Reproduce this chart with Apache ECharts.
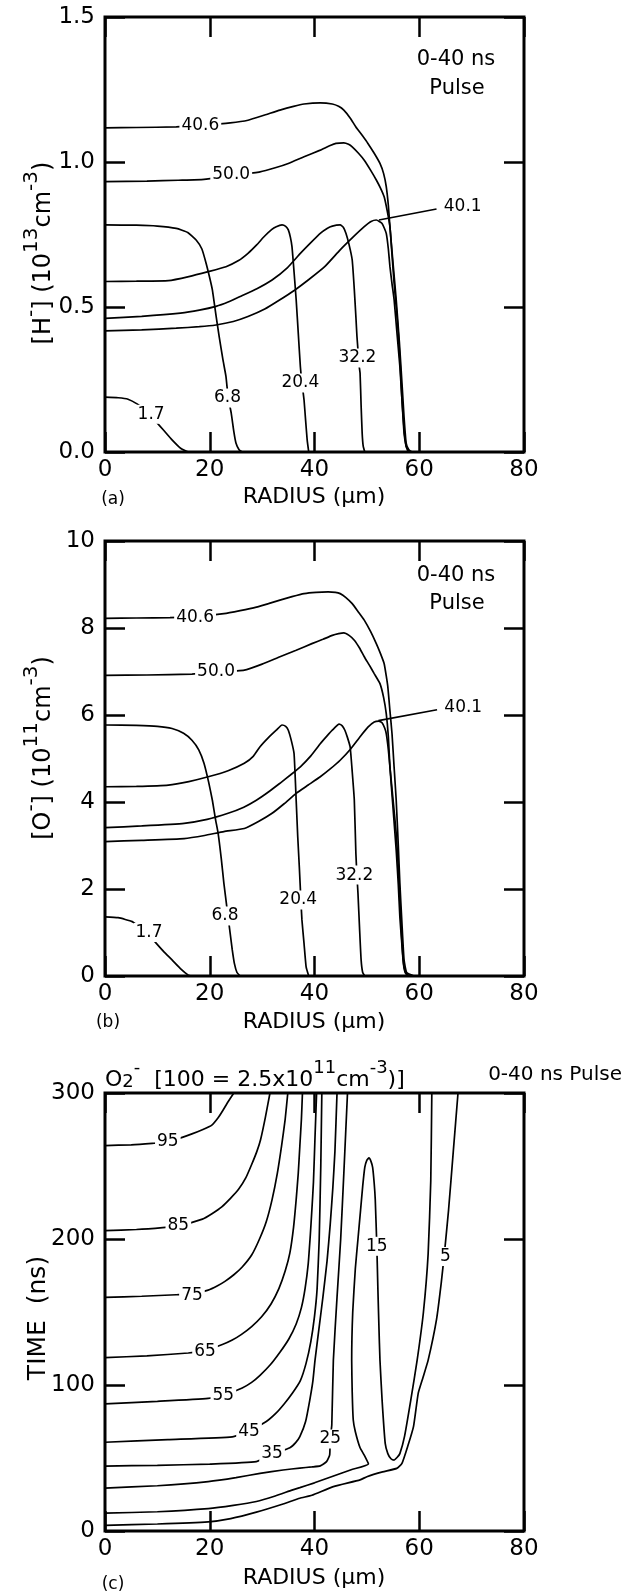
<!DOCTYPE html>
<html>
<head>
<meta charset="utf-8">
<script src="https://cdn.jsdelivr.net/npm/echarts@6/dist/echarts.min.js"></script>
<style>
  html, body { margin: 0; padding: 0; background: #fff; }
  #chart { width: 626px; height: 1595px; }
</style>
</head>
<body>
<div id="chart"></div>
<script>
// ---------- shared axis ticks ----------
const radiusTicks = [0, 20, 40, 60, 80];

// ---------- (a) H- density profiles, 10^13 cm^-3, [radius um, density] ----------
const hCurve1_7 = [[0,0.189],[2.5,0.187],[4.4,0.182],[6.2,0.165],[8.0,0.14],[9.7,0.105],[11.2,0.075],[12.8,0.042],[14.5,0.012],[15.9,0]];
const hCurve6_8 = [[0,0.783],[6,0.782],[10,0.779],[13.6,0.771],[15.8,0.757],[17.4,0.731],[18.5,0.70],[19.3,0.651],[20.0,0.60],[20.5,0.559],[21.2,0.47],[21.8,0.398],[22.5,0.32],[23.1,0.26],[23.5,0.19],[24.1,0.134],[24.6,0.07],[25.0,0.031],[25.6,0.008],[26.2,0]];
const hCurve20_4 = [[0,0.588],[6,0.589],[12.1,0.591],[16,0.605],[19.7,0.622],[23.1,0.639],[25.5,0.66],[27.3,0.685],[29,0.715],[30.4,0.743],[31.8,0.767],[32.7,0.777],[33.8,0.783],[34.5,0.778],[35.0,0.766],[35.4,0.74],[35.7,0.708],[36.1,0.62],[36.5,0.525],[36.9,0.41],[37.3,0.295],[37.6,0.24],[38.0,0.18],[38.3,0.11],[38.6,0.042],[38.9,0]];
const hCurve32_2 = [[0,0.461],[7,0.468],[14.4,0.479],[18,0.489],[21.2,0.502],[23.5,0.517],[25.8,0.536],[29,0.563],[31.9,0.593],[34.8,0.635],[37.3,0.685],[39.3,0.722],[41.1,0.754],[42.4,0.771],[43.4,0.779],[44.9,0.783],[45.5,0.775],[46.0,0.754],[46.6,0.715],[47.2,0.662],[47.6,0.56],[47.9,0.467],[48.1,0.40],[48.3,0.352],[48.5,0.30],[48.7,0.272],[48.9,0.16],[49.1,0.065],[49.3,0.02],[49.6,0]];
const hCurve40_1 = [[0,0.418],[7,0.421],[13.6,0.427],[18,0.432],[21.2,0.438],[24.5,0.45],[27.3,0.467],[30.5,0.493],[33.4,0.525],[36.2,0.558],[38.8,0.593],[42,0.64],[44.9,0.697],[47.3,0.74],[49.5,0.777],[50.8,0.795],[51.8,0.80],[52.9,0.788],[53.7,0.754],[54.1,0.70],[54.4,0.64],[54.8,0.58],[55.2,0.525],[55.7,0.42],[56.3,0.295],[56.7,0.18],[57.1,0.065],[57.5,0.02],[57.9,0]];
const hCurve50_0 = [[0,0.932],[8,0.934],[14,0.937],[18.9,0.94],[24,0.953],[29.6,0.966],[32.5,0.98],[35,0.995],[38,1.018],[41.1,1.041],[43,1.057],[44.1,1.064],[45.6,1.066],[46.5,1.061],[47.2,1.052],[48.4,1.03],[49.5,1.006],[50.7,0.972],[51.8,0.938],[52.6,0.91],[53.3,0.88],[53.9,0.83],[54.4,0.777],[54.8,0.68],[55.2,0.582],[55.6,0.50],[56.0,0.41],[56.4,0.29],[56.7,0.18],[57.1,0.08],[57.5,0.02],[58.2,0]];
const hCurve40_6 = [[0,1.118],[6,1.119],[13.6,1.121],[18.6,1.127],[23.9,1.135],[27.3,1.144],[30.5,1.162],[33.4,1.179],[36,1.192],[38,1.2],[41.1,1.204],[43.4,1.2],[44.6,1.192],[45.6,1.179],[46.8,1.152],[47.9,1.121],[49.1,1.092],[50.2,1.064],[51.4,1.03],[52.5,0.995],[53.2,0.96],[53.7,0.915],[54.1,0.85],[54.4,0.777],[55.0,0.65],[55.6,0.525],[56.2,0.38],[56.7,0.238],[57.1,0.12],[57.5,0.031],[58.0,0.008],[58.6,0]];
const hLeader40_1 = [[52.3,0.80],[63.3,0.838]];
// [text, radius, density] for the time tags (ns)
const hLabels = [['1.7',8.8,0.13],['6.8',23.4,0.186],['20.4',37.3,0.238],['32.2',48.2,0.324],['50.0',24.1,0.958],['40.6',18.2,1.125],['40.1',68.3,0.846]];

// ---------- (b) O- density profiles, 10^11 cm^-3 ----------
const oCurve1_7 = [[0,1.36],[2.5,1.34],[5.2,1.25],[7,1.08],[8.6,0.92],[9.8,0.75],[11.3,0.55],[12.8,0.37],[14.4,0.17],[15.9,0.02],[16.5,0]];
const oCurve6_8 = [[0,5.77],[6,5.76],[10,5.74],[12.8,5.69],[15,5.58],[16.6,5.42],[17.9,5.2],[18.9,4.89],[19.8,4.45],[20.5,4.04],[21.1,3.6],[21.6,3.28],[22.2,2.7],[22.7,2.13],[23.3,1.55],[23.9,0.98],[24.3,0.6],[24.7,0.29],[25.2,0.08],[25.8,0]];
const oCurve20_4 = [[0,4.35],[6,4.36],[12.1,4.39],[16,4.47],[19.7,4.58],[23.5,4.72],[26.6,4.89],[28.3,5.05],[29.6,5.27],[31.2,5.48],[32.7,5.65],[33.8,5.77],[34.5,5.74],[35,5.65],[35.6,5.4],[36.1,5.11],[36.5,4.04],[36.8,3.2],[37.1,2.51],[37.4,1.75],[37.6,1.29],[38.0,0.75],[38.4,0.21],[38.9,0]];
const oCurve32_2 = [[0,3.41],[7,3.45],[15.1,3.51],[19.5,3.6],[23.5,3.74],[26.5,3.88],[28.9,4.04],[31.2,4.23],[33.4,4.43],[35.4,4.62],[37.3,4.81],[39.3,5.06],[41.1,5.34],[42.4,5.52],[43.4,5.65],[44.7,5.79],[45.3,5.75],[45.8,5.65],[46.3,5.48],[46.8,5.27],[47.2,4.7],[47.6,4.04],[47.9,2.82],[48.1,2.32],[48.3,1.9],[48.6,1.1],[48.9,0.37],[49.2,0.08],[49.6,0]];
const oCurve40_1 = [[0,3.09],[7,3.12],[15.1,3.16],[19,3.23],[22.7,3.32],[26.6,3.39],[29.3,3.55],[31.9,3.74],[34.2,3.96],[36.5,4.2],[38.8,4.39],[41.1,4.58],[43,4.76],[44.9,4.96],[46.9,5.22],[48.7,5.5],[50.2,5.72],[51.4,5.84],[52.3,5.86],[52.9,5.82],[53.4,5.7],[53.7,5.57],[54.1,5.2],[54.4,4.81],[55.0,4.05],[55.6,3.28],[56.0,2.5],[56.3,1.75],[56.6,1.0],[56.9,0.37],[57.3,0.08],[57.9,0]];
const oCurve50_0 = [[0,6.91],[8,6.92],[16.6,6.94],[21.2,6.98],[26.6,7.03],[30,7.17],[33.4,7.34],[36.5,7.49],[39.5,7.64],[41.6,7.74],[43.4,7.83],[44.6,7.87],[45.6,7.89],[46.6,7.83],[47.6,7.72],[48.6,7.54],[49.5,7.34],[50.5,7.14],[51.4,6.95],[52.5,6.72],[53.2,6.4],[53.7,6.03],[54.1,5.5],[54.4,4.81],[55.0,3.85],[55.6,2.89],[56.0,2.1],[56.3,1.36],[56.7,0.7],[57.1,0.21],[57.6,0.04],[58.6,0]];
const oCurve40_6 = [[0,8.22],[6,8.23],[12.4,8.24],[17.2,8.26],[22.7,8.33],[25.8,8.40],[28.9,8.48],[31.2,8.56],[33.4,8.64],[35.7,8.72],[38,8.79],[40.3,8.82],[42.6,8.83],[44,8.82],[44.9,8.79],[46,8.70],[47.2,8.56],[48.3,8.38],[49.5,8.18],[50.7,7.92],[51.8,7.64],[52.6,7.41],[53.3,7.18],[53.7,6.9],[54.0,6.65],[54.4,6.1],[54.8,5.57],[55.2,4.8],[55.6,4.04],[56.0,3.0],[56.3,2.13],[56.7,1.2],[57.1,0.37],[57.6,0.08],[59,0]];
const oLeader40_1 = [[52.2,5.87],[63.4,6.12]];
const oLabels = [['1.7',8.4,1.0],['6.8',22.9,1.38],['20.4',36.9,1.75],['32.2',47.6,2.32],['50.0',21.2,6.99],['40.6',17.2,8.24],['40.1',68.4,6.17]];

// ---------- (c) O2- contours in (radius um, time ns), 100 = 2.5x10^11 cm^-3 ----------
const c95 = [[0,264],[5,264.5],[9,265.5],[12,266.5],[16.6,272],[18.7,275],[20.4,278],[21.6,283],[22.5,288],[23.5,294],[24.6,300]];
const c85 = [[0,205.8],[6,206.5],[11,207.8],[14,209],[18.6,213.6],[20.5,217.5],[22.3,222],[24,228],[25.5,234],[26.9,242],[28,251],[29,260],[29.7,268],[30.6,283],[31.5,300]];
const c75 = [[0,160],[7,160.8],[13.6,161.8],[16.6,162.3],[19.7,165],[21.4,167.8],[22.9,171],[24.6,175.5],[26.2,180.8],[28,189],[29.5,200],[30.8,212],[31.9,227],[32.9,245],[33.7,263.5],[34.4,282],[34.9,300]];
const c65 = [[0,118.7],[8,120],[15.9,121.9],[19.1,123.5],[22.4,127.7],[24.3,130.8],[26,134.5],[28,140],[29.9,146.7],[31.7,155.5],[33.2,166],[34.4,178],[35.3,190.5],[36,208],[36.5,227],[36.9,245],[37.2,263.5],[37.5,282],[37.7,300]];
const c55 = [[0,87.1],[10,88.8],[19.7,90.8],[22.6,93],[26.2,98],[28,101.8],[29.6,106.6],[31.6,114],[33.4,122.4],[35.1,131.5],[36.5,141.8],[37.5,153],[38.2,166],[38.8,183],[39.2,202.7],[39.5,220],[39.8,239],[40.1,270],[40.4,300]];
const c45 = [[0,60.8],[12,62.6],[24.3,64.5],[27.5,68.5],[30.8,75],[32.6,80.5],[34.2,87],[35.8,94.5],[37.3,103],[38.4,115],[39.3,129.7],[40.0,147],[40.5,166],[40.9,200],[41.2,250],[41.4,300]];
const c35 = [[0,44.5],[10,45],[20,45.8],[28.9,47.5],[31.9,52.5],[35.3,57],[36.4,60.5],[37.2,64.6],[38.3,75],[39.1,89.7],[39.7,103],[40.1,117],[40.9,140],[41.6,160],[42.4,185],[43.0,210],[43.5,235],[43.9,260],[44.3,300]];
const c25 = [[0,29.4],[10,31],[19.7,33.8],[25,36.5],[29.6,39.5],[34,41.8],[37.2,43.1],[39.5,43.9],[41.1,44.6],[42.3,47.5],[42.9,52.2],[43.0,63],[43.3,72.6],[43.6,117],[44.3,160],[45.0,200],[45.6,245],[46.3,300]];
const c15 = [[0,12.2],[10,13.2],[19.7,15.3],[24.5,17.5],[28.9,20.2],[32.5,24],[35.7,28],[37.2,29.7],[40,33],[43.5,37.5],[47,42],[50.3,45.9],[49.5,52],[48.7,57],[47.8,68],[47.4,76],[47.2,95],[47.1,117],[47.3,150],[47.8,180],[48.3,200],[48.8,220],[49.2,236],[49.6,249],[50.0,254],[50.4,255.5],[50.8,253],[51.1,249],[51.4,238],[51.6,227],[51.9,195],[52.1,166],[52.3,140],[52.5,117],[52.9,90],[53.5,60],[54.0,53],[54.6,49.5],[55.2,48.6],[55.8,50.5],[56.3,53],[57.2,65],[58.4,90],[59.6,117],[60.8,150],[61.7,190],[62.2,240],[62.4,300]];
const c5 = [[0,3.9],[10,4.8],[19.7,6.3],[24,8.5],[28.9,12.9],[34,18.5],[37.2,22.4],[39.5,24.5],[43.6,30.4],[48.7,35],[50,37.2],[53,40.5],[55.7,42.9],[56.7,46.3],[57.8,58],[58.9,71.5],[59.8,94.3],[60.7,105],[61.7,117],[63.3,145],[64.2,170],[64.8,190],[65.6,220],[66.5,260],[67.4,300]];
const cLabels = [['95',12.0,266.5],['85',14.0,209],['75',16.6,161.5],['65',19.1,123],['55',22.6,93],['45',27.5,68],['35',31.9,53],['25',43.0,63],['15',51.9,195],['5',65,188]];

// ---------- drawing ----------
const FONT = 'DejaVu Sans';
const INK = '#000';

const grids = [
  { left: 105, top: 17,   width: 419, height: 435 },
  { left: 105, top: 541,  width: 419, height: 435 },
  { left: 105, top: 1093, width: 419, height: 438 }
].map(g => Object.assign(g, {
  show: true, borderColor: INK, borderWidth: 3, backgroundColor: 'transparent',
  containLabel: false, outerBoundsMode: 'none'
}));

const tickStyle = { show: true, inside: true, length: 20, lineStyle: { color: INK, width: 2.5 } };
const hiddenLine = { show: false, onZero: false };

function xAxesFor(gridIndex) {
  const base = {
    type: 'value', gridIndex, min: radiusTicks[0], max: radiusTicks[radiusTicks.length - 1],
    interval: radiusTicks[1] - radiusTicks[0],
    splitLine: { show: false }, axisLine: hiddenLine, axisTick: tickStyle
  };
  return [
    Object.assign({}, base, { position: 'bottom',
      axisLabel: { show: true, color: INK, fontFamily: FONT, fontSize: 23, margin: 7 } }),
    Object.assign({}, base, { position: 'top', axisLabel: { show: false } })
  ];
}

function yAxesFor(gridIndex, min, max, interval, fmt) {
  const base = {
    type: 'value', gridIndex, min, max, interval,
    splitLine: { show: false }, axisLine: hiddenLine, axisTick: tickStyle
  };
  return [
    Object.assign({}, base, { position: 'left',
      axisLabel: { show: true, color: INK, fontFamily: FONT, fontSize: 23, margin: 10, formatter: fmt } }),
    Object.assign({}, base, { position: 'right', axisLabel: { show: false } })
  ];
}

function curve(axisIdx, data) {
  return {
    type: 'line', xAxisIndex: axisIdx, yAxisIndex: axisIdx, data,
    symbol: 'none', smooth: 0.15, silent: true, z: 3,
    lineStyle: { color: INK, width: 1.7 }
  };
}

function tags(axisIdx, list) {
  return {
    type: 'scatter', xAxisIndex: axisIdx, yAxisIndex: axisIdx, silent: true, z: 6,
    symbolSize: 1, itemStyle: { color: 'rgba(255,255,255,0)', opacity: 1 },
    data: list.map(t => ({ name: t[0], value: [t[1], t[2]] })),
    label: {
      show: true, position: 'inside', formatter: '{b}', color: INK, opacity: 1,
      textBorderWidth: 0, fontFamily: FONT, fontSize: 17, backgroundColor: '#fff', padding: [1, 2]
    }
  };
}

const series = [];
[hCurve1_7, hCurve6_8, hCurve20_4, hCurve32_2, hCurve40_1, hCurve50_0, hCurve40_6, hLeader40_1]
  .forEach(d => series.push(curve(0, d)));
series.push(tags(0, hLabels));
[oCurve1_7, oCurve6_8, oCurve20_4, oCurve32_2, oCurve40_1, oCurve50_0, oCurve40_6, oLeader40_1]
  .forEach(d => series.push(curve(2, d)));
series.push(tags(2, oLabels));
[c95, c85, c75, c65, c55, c45, c35, c25, c15, c5].forEach(d => series.push(curve(4, d)));
series.push(tags(4, cLabels));

function text(x, y, str, size, align, rotated) {
  return {
    type: 'text', x, y, silent: true, z: 10, rotation: rotated ? Math.PI / 2 : 0,
    style: { text: str, fill: INK, font: size + 'px "' + FONT + '"', align: align || 'center', verticalAlign: 'middle' }
  };
}

function richText(x, y, str, mainSize, supSize, rotated, align) {
  return {
    type: 'text', x, y, silent: true, z: 10, rotation: rotated ? Math.PI / 2 : 0,
    style: {
      text: str, fill: INK, align: align || 'center', verticalAlign: 'middle',
      rich: {
        m:   { fontFamily: FONT, fontSize: mainSize, lineHeight: mainSize + 10, verticalAlign: 'bottom', fill: INK },
        s:   { fontFamily: FONT, fontSize: supSize, lineHeight: supSize - 2, verticalAlign: 'top', fill: INK },
        sub: { fontFamily: FONT, fontSize: supSize, lineHeight: supSize + 4, verticalAlign: 'bottom', fill: INK }
      }
    }
  };
}

const graphic = [
  // (a)
  richText(39, 253, '{m|[H}{s|-}{m|] (10}{s|13}{m|cm}{s|-3}{m|)}', 24, 20, true),
  text(314, 497, 'RADIUS (\u03bcm)', 22),
  text(113, 500, '(a)', 17),
  text(456, 60, '0-40 ns', 21),
  text(457, 89, 'Pulse', 21),
  // (b)
  richText(39, 748, '{m|[O}{s|-}{m|] (10}{s|11}{m|cm}{s|-3}{m|)}', 24, 20, true),
  text(314, 1022, 'RADIUS (\u03bcm)', 22),
  text(108, 1023, '(b)', 17),
  text(456, 576, '0-40 ns', 21),
  text(457, 604, 'Pulse', 21),
  // (c)
  richText(105, 1075, '{m|O}{sub|2}{s|-}{m|  [100 = 2.5x10}{s|11}{m|cm}{s|-3}{m|)]}', 22, 18, false, 'left'),
  text(622, 1075, '0-40 ns Pulse', 20, 'right'),
  text(38, 1318, 'TIME  (ns)', 25, 'center', true),
  text(314, 1578, 'RADIUS (\u03bcm)', 22),
  text(113, 1585, '(c)', 17)
];

const option = {
  animation: false,
  backgroundColor: '#fff',
  textStyle: { fontFamily: FONT },
  grid: grids,
  xAxis: [].concat(xAxesFor(0), xAxesFor(1), xAxesFor(2)),
  yAxis: [].concat(
    yAxesFor(0, 0, 1.5, 0.5, v => v.toFixed(1)),
    yAxesFor(1, 0, 10, 2),
    yAxesFor(2, 0, 300, 100)
  ),
  series,
  graphic
};

const chart = echarts.init(document.getElementById('chart'), null, { renderer: 'canvas' });
chart.setOption(option);
</script>
</body>
</html>
